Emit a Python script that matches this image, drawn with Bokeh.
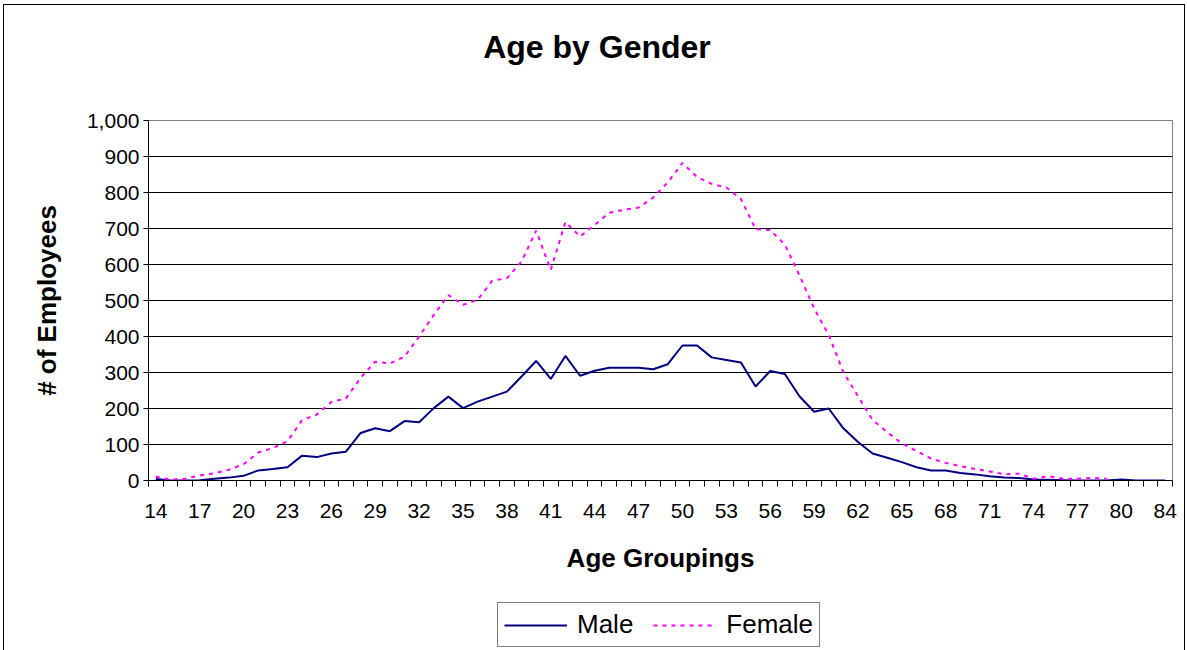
from bokeh.plotting import figure
from bokeh.layouts import column
from bokeh.models import (FixedTicker, NumeralTickFormatter, Legend, LegendItem,
                          Range1d, ColumnDataSource)
from bokeh.core.properties import value
from bokeh.embed import file_html
from bokeh.resources import INLINE

nan = float("nan")

ages = list(range(14, 83)) + [84]
male = [4, 0, 0, 1, 5, 8, 13, 28, 32, 37,
        69, 65, 75, 80, 132, 145, 137, 165, 162, 201,
        233, 201, 219, 233, 247, 289, 332, 282, 346, 291,
        305, 313, 313, 313, 309, 323, 375, 375, 342, 335,
        328, 261, 304, 296, 234, 191, 200, 145, 107, 75,
        63, 51, 37, 28, 28, 21, 17, 12, 8, 7,
        3, 2, 1, 0, 0, 0, 3, 0, 0, 0]
female = [11, 2, 5, 14, 20, 30, 45, 78, 90, 109,
          168, 183, 218, 228, 285, 330, 325, 344, 400, 460,
          515, 488, 502, 555, 562, 608, 694, 585, 718, 678,
          710, 744, 752, 758, 786, 828, 882, 843, 824, 814,
          782, 698, 696, 655, 570, 478, 404, 301, 234, 168,
          134, 103, 82, 61, 49, 40, 32, 25, 17, 19,
          5, 12, 5, 5, 7, 5, nan, nan, nan, nan]
y_ticks = [0, 100, 200, 300, 400, 500, 600, 700, 800, 900, 1000]
title_text = "Age by Gender"

FONT = "Liberation Sans"
W = 1180
BL, BR = 144, 12          # side borders -> plot area 1024 px wide
FW = W - BL - BR
MALE_C = "#000080"
FEMALE_C = "#FF00FF"
DASH = "4 5"

idx = list(range(len(ages)))
src = ColumnDataSource(dict(x=idx, male=male, female=female))

# ---- title strip ----
H0 = 60
p0 = figure(width=W, height=H0, output_backend="svg", toolbar_location=None,
            x_range=Range1d(0, FW), y_range=Range1d(0, H0),
            x_axis_type=None, y_axis_type=None,
            min_border_left=BL, min_border_right=BR,
            min_border_top=0, min_border_bottom=0)
p0.outline_line_color = None
p0.text(x=[448.5], y=[19], text=[title_text], text_align="center",
        text_baseline="middle", text_font=value(FONT),
        text_font_size="32px", text_font_style="bold", text_color="black")

# ---- main chart ----
H1 = 55 + 360 + 100
p = figure(width=W, height=H1, output_backend="svg", toolbar_location=None,
           x_range=Range1d(-0.5, len(ages) - 0.5), y_range=Range1d(0, 1000),
           min_border_left=BL, min_border_right=BR, min_border_top=55,
           min_border_bottom=100)
p.outline_line_color = "#808080"
p.outline_line_width = 1

xax = p.xaxis[0]
label_ticks = [i for i in idx if i % 3 == 0]
xax.ticker = FixedTicker(ticks=label_ticks,
                         minor_ticks=[i - 0.5 for i in range(len(ages) + 1)])
xax.major_label_overrides = {i: str(ages[i]) for i in label_ticks}
xax.major_tick_line_color = None
xax.minor_tick_out = 6
xax.minor_tick_in = 0
xax.minor_tick_line_color = "black"
xax.axis_line_color = "black"
xax.major_label_text_font = FONT
xax.major_label_text_font_size = "21px"
xax.major_label_text_color = "black"
xax.major_label_standoff = 17
xax.axis_label = "Age Groupings"
xax.axis_label_text_font = FONT
xax.axis_label_text_font_size = "26px"
xax.axis_label_text_font_style = "bold"
xax.axis_label_text_color = "black"
xax.axis_label_standoff = 22

yax = p.yaxis[0]
yax.ticker = FixedTicker(ticks=y_ticks)
yax.formatter = NumeralTickFormatter(format="0,0")
yax.major_tick_out = 5
yax.major_tick_in = 0
yax.minor_tick_line_color = None
yax.axis_line_color = "black"
yax.major_label_text_font = FONT
yax.major_label_text_font_size = "21px"
yax.major_label_text_color = "black"
yax.major_label_standoff = 4
yax.axis_label = "# of Employees"
yax.axis_label_text_font = FONT
yax.axis_label_text_font_size = "26px"
yax.axis_label_text_font_style = "bold"
yax.axis_label_text_color = "black"
yax.axis_label_standoff = 22

p.xgrid.grid_line_color = None
p.ygrid.ticker = FixedTicker(ticks=y_ticks[1:-1])
p.ygrid.grid_line_color = "black"
p.ygrid.grid_line_width = 1

p.line("x", "male", source=src, line_color=MALE_C, line_width=2)
p.line("x", "female", source=src, line_color=FEMALE_C, line_width=2,
       line_dash=DASH)

# ---- legend strip (series drawn out of view; only the legend shows) ----
H2 = 650 - 5 - H0 - H1
p2 = figure(width=W, height=H2, output_backend="svg", toolbar_location=None,
            x_range=Range1d(1000, 1000 + FW), y_range=Range1d(0, H2),
            x_axis_type=None, y_axis_type=None,
            min_border_left=BL, min_border_right=BR,
            min_border_top=0, min_border_bottom=0)
p2.outline_line_color = None
lm = p2.line("x", "male", source=src, line_color=MALE_C, line_width=2)
lf = p2.line("x", "female", source=src, line_color=FEMALE_C, line_width=2,
             line_dash=DASH)
legend = Legend(items=[LegendItem(label="Male", renderers=[lm]),
                       LegendItem(label="Female", renderers=[lf])],
                location=(349, 3), orientation="horizontal",
                label_text_font=FONT, label_text_font_size="26px",
                label_text_color="black",
                glyph_width=63, glyph_height=20, label_standoff=10, spacing=20,
                padding=6, margin=0, border_line_color="black",
                border_line_width=1, background_fill_alpha=1)
p2.add_layout(legend, "center")

lay = column(p0, p, p2, spacing=0)
lay.styles = {"margin-left": "3px", "margin-top": "4px",
              "border-top": "1px solid #000", "border-left": "1px solid #000",
              "border-right": "1px solid #000"}

open("out.html", "w").write(file_html(lay, INLINE))
